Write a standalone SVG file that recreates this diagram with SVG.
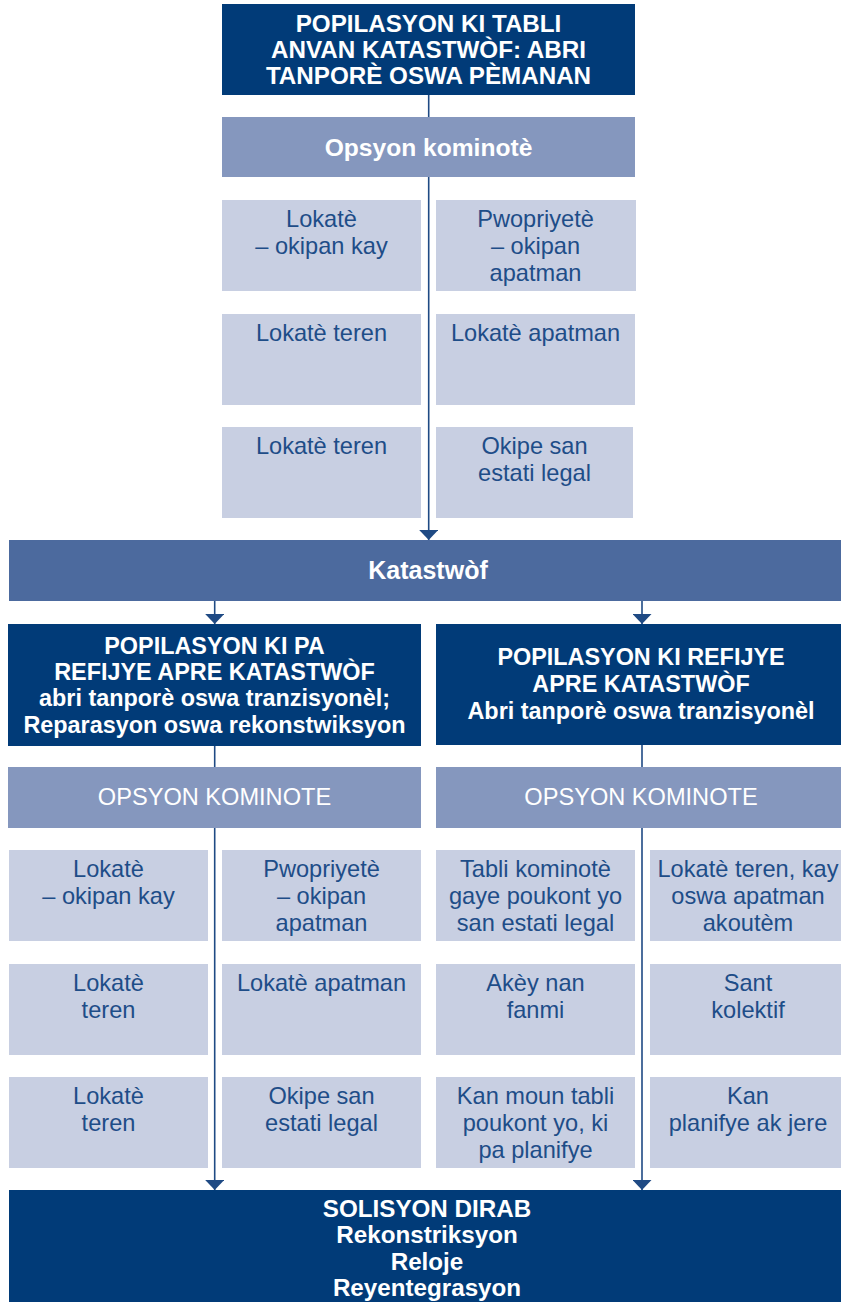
<svg xmlns="http://www.w3.org/2000/svg" width="841" height="1302" viewBox="0 0 841 1302">
<defs>
<style>
text{font-family:"Liberation Sans",Arial,Helvetica,sans-serif;text-anchor:middle}
.navy{fill:#013b78}
.mid{fill:#4c6a9e}
.opt{fill:#8597be}
.lt{fill:#c8cfe2}
.wb{fill:#ffffff;font-weight:bold;font-size:23.4px}
.wh{fill:#ffffff;font-weight:bold;font-size:24.2px}
.wr{fill:#ffffff;font-size:23.6px}
.bt{fill:#1e4d88;font-size:23.6px}
.ln{stroke:#1f4a84;stroke-width:1.6;fill:none}
</style>
<marker id="ah" viewBox="0 -9.5 10 19" refX="10" refY="0" markerWidth="10" markerHeight="19" markerUnits="userSpaceOnUse" orient="auto">
<path d="M0,-9.5 L10,0 L0,9.5 Z" fill="#1f4a84"/>
</marker>
</defs>
<rect width="841" height="1302" fill="#ffffff"/>

<g id="connectors">
<line class="ln" x1="428.7" y1="95" x2="428.7" y2="117"/>
<line class="ln" x1="428.7" y1="177" x2="428.7" y2="540" marker-end="url(#ah)"/>
<line class="ln" x1="214.7" y1="600" x2="214.7" y2="624" marker-end="url(#ah)"/>
<line class="ln" x1="642" y1="600" x2="642" y2="624" marker-end="url(#ah)"/>
<line class="ln" x1="214.7" y1="746" x2="214.7" y2="767"/>
<line class="ln" x1="642" y1="745" x2="642" y2="767"/>
<line class="ln" x1="214.7" y1="828" x2="214.7" y2="1190" marker-end="url(#ah)"/>
<line class="ln" x1="642" y1="828" x2="642" y2="1190" marker-end="url(#ah)"/>
</g>

<g id="n-top">
<rect class="navy" x="222" y="4" width="413" height="91"/>
<text class="wh" x="428.5" y="32">POPILASYON KI TABLI</text>
<text class="wh" x="428.5" y="58">ANVAN KATASTWÒF: ABRI</text>
<text class="wh" x="428.5" y="84">TANPORÈ OSWA PÈMANAN</text>
</g>

<g id="n-opsyon">
<rect class="opt" x="222" y="117" width="413" height="60"/>
<text class="wh" x="428.5" y="156" style="font-size:24.6px">Opsyon kominotè</text>
</g>

<g id="n-t11">
<rect class="lt" x="222" y="200" width="199" height="91"/>
<text class="bt" x="321.5" y="227">Lokatè</text>
<text class="bt" x="321.5" y="254">– okipan kay</text>
</g>
<g id="n-t12">
<rect class="lt" x="436" y="200" width="200" height="91"/>
<text class="bt" x="535.5" y="227">Pwopriyetè</text>
<text class="bt" x="535.5" y="254">– okipan</text>
<text class="bt" x="535.5" y="281">apatman</text>
</g>
<g id="n-t21">
<rect class="lt" x="222" y="314" width="199" height="91"/>
<text class="bt" x="321.5" y="341">Lokatè teren</text>
</g>
<g id="n-t22">
<rect class="lt" x="436" y="314" width="199" height="91"/>
<text class="bt" x="535.5" y="341">Lokatè apatman</text>
</g>
<g id="n-t31">
<rect class="lt" x="222" y="427" width="199" height="91"/>
<text class="bt" x="321.5" y="454">Lokatè teren</text>
</g>
<g id="n-t32">
<rect class="lt" x="436" y="427" width="197" height="91"/>
<text class="bt" x="534.5" y="454">Okipe san</text>
<text class="bt" x="534.5" y="481">estati legal</text>
</g>

<g id="n-katastwof">
<rect class="mid" x="9" y="540" width="832" height="61"/>
<text class="wh" x="428" y="579" style="font-size:25px">Katastwòf</text>
</g>

<g id="n-pa-refijye">
<rect class="navy" x="8" y="624" width="413" height="122"/>
<text class="wb" x="214.5" y="654">POPILASYON KI PA</text>
<text class="wb" x="214.5" y="680">REFIJYE APRE KATASTWÒF</text>
<text class="wb" x="214.5" y="706">abri tanporè oswa tranzisyonèl;</text>
<text class="wb" x="214.5" y="733">Reparasyon oswa rekonstwiksyon</text>
</g>
<g id="n-refijye">
<rect class="navy" x="436" y="624" width="405" height="121"/>
<text class="wb" x="641" y="665">POPILASYON KI REFIJYE</text>
<text class="wb" x="641" y="692">APRE KATASTWÒF</text>
<text class="wb" x="641" y="719">Abri tanporè oswa tranzisyonèl</text>
</g>

<g id="n-opsyon-l">
<rect class="opt" x="8" y="767" width="413" height="61"/>
<text class="wr" x="214.5" y="805">OPSYON KOMINOTE</text>
</g>
<g id="n-opsyon-r">
<rect class="opt" x="436" y="767" width="405" height="61"/>
<text class="wr" x="641" y="805">OPSYON KOMINOTE</text>
</g>

<g id="n-l11">
<rect class="lt" x="9" y="850" width="199" height="91"/>
<text class="bt" x="108.5" y="877">Lokatè</text>
<text class="bt" x="108.5" y="904">– okipan kay</text>
</g>
<g id="n-l12">
<rect class="lt" x="222" y="850" width="199" height="91"/>
<text class="bt" x="321.5" y="877">Pwopriyetè</text>
<text class="bt" x="321.5" y="904">– okipan</text>
<text class="bt" x="321.5" y="931">apatman</text>
</g>
<g id="n-l21">
<rect class="lt" x="9" y="964" width="199" height="91"/>
<text class="bt" x="108.5" y="991">Lokatè</text>
<text class="bt" x="108.5" y="1018">teren</text>
</g>
<g id="n-l22">
<rect class="lt" x="222" y="964" width="199" height="91"/>
<text class="bt" x="321.5" y="991">Lokatè apatman</text>
</g>
<g id="n-l31">
<rect class="lt" x="9" y="1077" width="199" height="91"/>
<text class="bt" x="108.5" y="1104">Lokatè</text>
<text class="bt" x="108.5" y="1131">teren</text>
</g>
<g id="n-l32">
<rect class="lt" x="222" y="1077" width="199" height="91"/>
<text class="bt" x="321.5" y="1104">Okipe san</text>
<text class="bt" x="321.5" y="1131">estati legal</text>
</g>

<g id="n-r11">
<rect class="lt" x="436" y="850" width="199" height="91"/>
<text class="bt" x="535.5" y="877">Tabli kominotè</text>
<text class="bt" x="535.5" y="904">gaye poukont yo</text>
<text class="bt" x="535.5" y="931">san estati legal</text>
</g>
<g id="n-r12">
<rect class="lt" x="650" y="850" width="191" height="91"/>
<text class="bt" x="748" y="877">Lokatè teren, kay</text>
<text class="bt" x="748" y="904">oswa apatman</text>
<text class="bt" x="748" y="931">akoutèm</text>
</g>
<g id="n-r21">
<rect class="lt" x="436" y="964" width="199" height="91"/>
<text class="bt" x="535.5" y="991">Akèy nan</text>
<text class="bt" x="535.5" y="1018">fanmi</text>
</g>
<g id="n-r22">
<rect class="lt" x="650" y="964" width="191" height="91"/>
<text class="bt" x="748" y="991">Sant</text>
<text class="bt" x="748" y="1018">kolektif</text>
</g>
<g id="n-r31">
<rect class="lt" x="436" y="1077" width="199" height="91"/>
<text class="bt" x="535.5" y="1104">Kan moun tabli</text>
<text class="bt" x="535.5" y="1131">poukont yo, ki</text>
<text class="bt" x="535.5" y="1158">pa planifye</text>
</g>
<g id="n-r32">
<rect class="lt" x="650" y="1077" width="191" height="91"/>
<text class="bt" x="748" y="1104">Kan</text>
<text class="bt" x="748" y="1131">planifye ak jere</text>
</g>

<g id="n-solisyon">
<rect class="navy" x="9" y="1190" width="832" height="112"/>
<text class="wh" x="427" y="1217">SOLISYON DIRAB</text>
<text class="wh" x="427" y="1243">Rekonstriksyon</text>
<text class="wh" x="427" y="1270">Reloje</text>
<text class="wh" x="427" y="1296">Reyentegrasyon</text>
</g>
</svg>
